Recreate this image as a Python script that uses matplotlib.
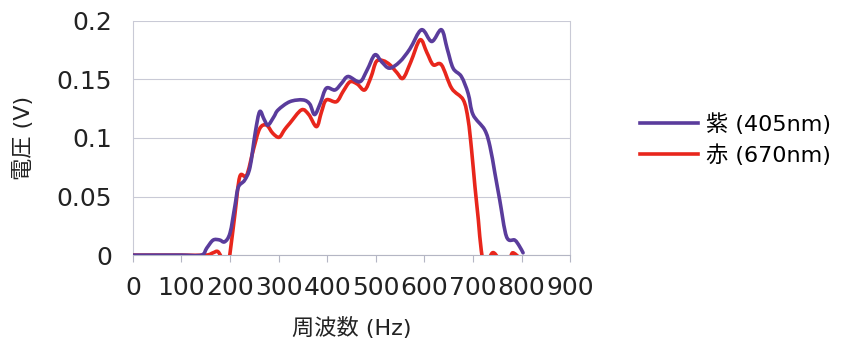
import matplotlib.pyplot as plt
from matplotlib.path import Path
from matplotlib.patches import PathPatch
from matplotlib.lines import Line2D

plt.rcParams['font.family'] = ['DejaVu Sans', 'Noto Sans CJK JP']

# frequency (Hz) / voltage (V) readings for each laser
freq_violet = [0, 50, 100, 141, 152, 165, 178, 189, 200, 210, 217, 230, 241, 252,
               261, 270, 278, 290, 299, 323, 350, 364, 374, 386, 398, 416, 430,
               443, 467, 482, 498, 512, 528, 549, 570, 594, 615, 635, 647, 659,
               676, 690, 700, 724, 735, 745, 755, 769, 786, 795, 803]
volt_violet = [0, 0, 0, 0, 0.006, 0.0128, 0.013, 0.0114, 0.019, 0.042, 0.058,
               0.064, 0.075, 0.105, 0.1225, 0.116, 0.111, 0.118, 0.124, 0.131,
               0.1325, 0.129, 0.12, 0.13, 0.1425, 0.141, 0.147, 0.1525, 0.148,
               0.158, 0.171, 0.165, 0.1596, 0.165, 0.176, 0.1924, 0.1824, 0.1924,
               0.176, 0.1596, 0.1525, 0.138, 0.12, 0.107, 0.0926, 0.07, 0.047,
               0.0157, 0.0128, 0.008, 0.002]

freq_red = [0, 50, 100, 150, 165, 175, 185, 195, 200, 210, 220, 234, 248, 261,
            275, 288, 301, 312, 323, 347, 362, 378, 388, 398, 419, 433, 447,
            462, 477, 490, 501, 515, 529, 543, 556, 572, 591, 605, 618, 635,
            656, 680, 690, 697, 704, 711, 717, 725, 740, 755, 775, 782, 795]
volt_red = [0, 0, 0, 0, 0.002, 0.003, -0.004, -0.01, 0.002, 0.035, 0.067, 0.068,
            0.09, 0.108, 0.111, 0.104, 0.1006, 0.107, 0.1126, 0.124, 0.12,
            0.1097, 0.122, 0.1325, 0.131, 0.14, 0.148, 0.146, 0.141, 0.152,
            0.1653, 0.166, 0.1625, 0.156, 0.151, 0.165, 0.1838, 0.173, 0.1625,
            0.1625, 0.1425, 0.1325, 0.1155, 0.09, 0.0584, 0.03, 0.004, -0.01,
            0.002, -0.003, -0.002, 0.002, -0.002]

xticks = [0, 100, 200, 300, 400, 500, 600, 700, 800, 900]
yticks = [0, 0.05, 0.1, 0.15, 0.2]
ytick_labels = ['0', '0.05', '0.1', '0.15', '0.2']

VIOLET = '#5a3c9c'
RED = '#e8261c'


def smooth_line(ax, xs, ys, color, z):
    # spreadsheet-style smoothed line: cubic Bezier segments through the readings
    pts = list(zip(xs, ys))
    n = len(pts)
    verts = [pts[0]]
    codes = [Path.MOVETO]
    for i in range(n - 1):
        p0 = pts[max(i - 1, 0)]
        p1 = pts[i]
        p2 = pts[i + 1]
        p3 = pts[min(i + 2, n - 1)]
        c1 = (p1[0] + (p2[0] - p0[0]) / 6, p1[1] + (p2[1] - p0[1]) / 6)
        c2 = (p2[0] - (p3[0] - p1[0]) / 6, p2[1] - (p3[1] - p1[1]) / 6)
        verts += [c1, c2, p2]
        codes += [Path.CURVE4] * 3
    patch = PathPatch(Path(verts, codes), fill=False, edgecolor=color, lw=2.6,
                      capstyle='round', joinstyle='round', zorder=z)
    ax.add_patch(patch)


fig = plt.figure(figsize=(8.41, 3.42), dpi=100)
ax = fig.add_axes([0.158, 0.254, 0.52, 0.685])

smooth_line(ax, freq_red, volt_red, RED, 3)
smooth_line(ax, freq_violet, volt_violet, VIOLET, 4)

ax.set_xlim(0, 900)
ax.set_ylim(0, 0.2)
ax.set_xticks(xticks)
ax.set_xticklabels([str(t) for t in xticks])
ax.set_yticks(yticks)
ax.set_yticklabels(ytick_labels)

ax.grid(axis='y', color='#c9cad6', lw=0.8)
for side in ['left', 'right']:
    ax.spines[side].set_color('#c9cad6')
    ax.spines[side].set_linewidth(0.8)
ax.spines['top'].set_visible(False)
ax.spines['bottom'].set_color('#b4b6c4')
ax.spines['bottom'].set_linewidth(0.8)
ax.tick_params(axis='y', length=0, labelsize=18, pad=15, labelcolor='#222222')
ax.tick_params(axis='x', length=5, color='#b4b6c4', labelsize=18, pad=10,
               labelcolor='#222222')

ax.set_xlabel('周波数 (Hz)', fontsize=16, labelpad=12, color='#222222')
ax.set_ylabel('電圧 (V)', fontsize=16, labelpad=16, color='#222222')

handles = [Line2D([], [], color=VIOLET, lw=2.6), Line2D([], [], color=RED, lw=2.6)]
fig.legend(handles, ['紫 (405nm)', '赤 (670nm)'], loc='center left',
           bbox_to_anchor=(0.737, 0.592), frameon=False, fontsize=16,
           handlelength=2.6, handletextpad=0.4, labelspacing=0.4)

fig.savefig('out.png', dpi=100)
